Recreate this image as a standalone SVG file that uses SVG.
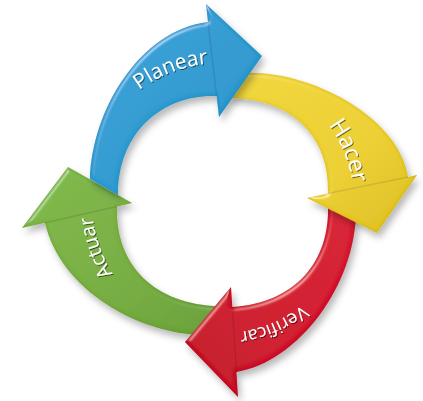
<svg xmlns="http://www.w3.org/2000/svg" width="423" height="401" viewBox="0 0 423 401">
<defs>
  <style>
    .lbl{font-family:"Open Sans","Noto Sans","DejaVu Sans",sans-serif;fill:#ffffff;filter:url(#tshadow)}
    .seam{fill:none;stroke:#000;stroke-opacity:0.10;stroke-width:1.5}
  </style>
  <filter id="arrowfx" x="-20%" y="-20%" width="140%" height="140%">
    <feGaussianBlur in="SourceAlpha" stdDeviation="2.2" result="b"/>
    <feSpecularLighting in="b" surfaceScale="3" specularConstant="0.6" specularExponent="30" lighting-color="#ffffff" result="spec">
      <feDistantLight azimuth="235" elevation="35"/>
    </feSpecularLighting>
    <feComposite in="spec" in2="SourceAlpha" operator="in" result="specIn"/>
    <feComposite in="SourceGraphic" in2="specIn" operator="arithmetic" k1="0" k2="1" k3="0.5" k4="0" result="lit"/>
    <feGaussianBlur in="SourceAlpha" stdDeviation="1.5" result="ib"/>
    <feComposite in="SourceAlpha" in2="ib" operator="out" result="rim"/>
    <feFlood flood-color="#000" flood-opacity="0.25"/>
    <feComposite in2="rim" operator="in" result="rimc"/>
    <feGaussianBlur in="SourceAlpha" stdDeviation="3.5" result="sb"/>
    <feOffset in="sb" dx="3" dy="5" result="so"/>
    <feFlood flood-color="#000" flood-opacity="0.28"/>
    <feComposite in2="so" operator="in" result="shadow"/>
    <feMerge><feMergeNode in="shadow"/><feMergeNode in="lit"/><feMergeNode in="rimc"/></feMerge>
  </filter>
  <filter id="tshadow" x="-10%" y="-30%" width="120%" height="160%">
    <feGaussianBlur in="SourceAlpha" stdDeviation="0.7" result="tb"/>
    <feOffset in="tb" dx="1" dy="1.3" result="to"/>
    <feFlood flood-color="#000" flood-opacity="0.55"/>
    <feComposite in2="to" operator="in" result="ts"/>
    <feMerge><feMergeNode in="ts"/><feMergeNode in="SourceGraphic"/></feMerge>
  </filter>
  <linearGradient id="gBlue" x1="0" y1="0" x2="1" y2="1">
    <stop offset="0" stop-color="#35a2d8"/>
    <stop offset="0.6" stop-color="#2d99cf"/>
    <stop offset="1" stop-color="#2188c2"/>
  </linearGradient>
  <linearGradient id="gYellow" x1="0" y1="0" x2="1" y2="1">
    <stop offset="0" stop-color="#f1d63a"/>
    <stop offset="0.6" stop-color="#ebcf2e"/>
    <stop offset="1" stop-color="#dcbd1e"/>
  </linearGradient>
  <linearGradient id="gRed" x1="1" y1="0" x2="0" y2="1">
    <stop offset="0" stop-color="#d81c31"/>
    <stop offset="0.6" stop-color="#cf152b"/>
    <stop offset="1" stop-color="#bf1024"/>
  </linearGradient>
  <linearGradient id="gGreen" x1="0" y1="0" x2="1" y2="1">
    <stop offset="0" stop-color="#80b948"/>
    <stop offset="0.6" stop-color="#76ad40"/>
    <stop offset="1" stop-color="#68a036"/>
  </linearGradient>
  <path id="pPlanear" d="M99.6,135.1 A140,140 0 0 1 267.6,70.6"/>
  <path id="pHacer" d="M282.9,85.9 A132,132 0 0 1 347.9,242.7"/>
  <path id="pVerificar" d="M337.8,262 A130,130 0 0 1 184,327.3"/>
  <path id="pActuar" d="M156,315 A130,130 0 0 1 100.2,157.5"/>
</defs>
<rect width="423" height="401" fill="#ffffff"/>

<g id="actuar">
  <path filter="url(#arrowfx)" fill="url(#gGreen)" d="M205,335 C140,335 60,290 45,222.8 L22,228 L68,167 L132,203 L117,206.4 C115,265 155,305 220,306 Z"/>
  <line class="seam" x1="45" y1="222.8" x2="117" y2="206.4"/>
  <text class="lbl" font-size="20"><textPath href="#pActuar" startOffset="50%" text-anchor="middle">Actuar</textPath></text>
</g>

<g id="verificar">
  <path filter="url(#arrowfx)" fill="url(#gRed)" d="M356,210 C356,285 298,362 236.4,372 L238,397 L185,342 L231,287 L232.3,307 C295,303 330,262 328,205 Z"/>
  <line class="seam" x1="232.3" y1="307" x2="236.4" y2="372"/>
  <text class="lbl" font-size="18"><textPath href="#pVerificar" startOffset="50%" text-anchor="middle">Verificar</textPath></text>
</g>

<g id="hacer">
  <path filter="url(#arrowfx)" fill="url(#gYellow)" d="M240,73 C310,68 400,118 408,177 L417,175 L377,233 L307,198 L328,193.6 C330,135 290,98 228,98 Z"/>
  <line class="seam" x1="328" y1="193.6" x2="408" y2="177"/>
  <text class="lbl" font-size="23"><textPath href="#pHacer" startOffset="50%" text-anchor="middle">Hacer</textPath></text>
</g>

<g id="planear">
  <path filter="url(#arrowfx)" fill="url(#gBlue)" d="M90,179 C92,110 140,30 208,22 L206,4 L262,56 L219,117 L216.6,96 C165,94 118,130 118,195 Z"/>
  <line class="seam" x1="208" y1="22" x2="216.6" y2="96"/>
  <text class="lbl" font-size="21"><textPath href="#pPlanear" startOffset="50%" text-anchor="middle">Planear</textPath></text>
</g>
</svg>
